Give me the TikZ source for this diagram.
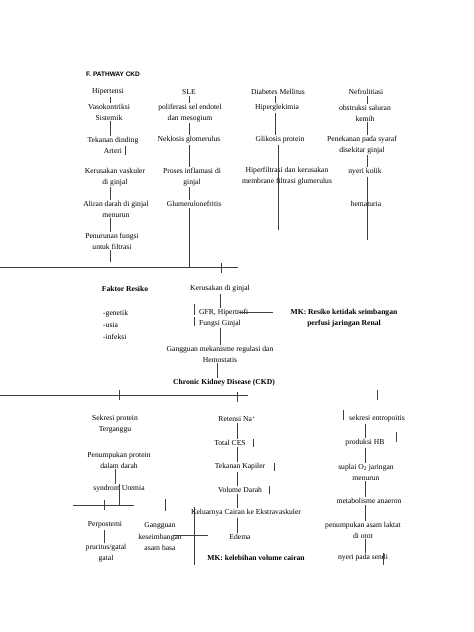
\documentclass[tikz,border=0pt]{standalone}
\usepackage{fontspec}
\setmainfont{Liberation Serif}
\newfontfamily\headfont{Liberation Sans}
\usetikzlibrary{calc,positioning}
\begin{document}
\begin{tikzpicture}[x=1pt,y=-1pt]
\tikzstyle{txt}=[inner sep=1pt, align=center, font=\fontsize{7.6}{10.8}\selectfont]
\tikzstyle{mk}=[txt, font=\fontsize{7.6}{10.8}\selectfont\bfseries]
\tikzstyle{ln}=[draw=black!75, line width=0.6pt]
\useasboundingbox (0,0) rectangle (474,632);

\node[anchor=west, inner sep=0pt, font=\headfont\fontsize{6.5}{8}\selectfont\bfseries] (judul) at (86,74) {F. PATHWAY CKD};

% etiologi
\coordinate (x1) at (110,0);
\coordinate (x2) at (189,0);
\coordinate (x3) at (275,0);
\coordinate (x4) at (367,0);

\node[txt] (hip) at (108,92) {Hipertensi};
\node[txt] (vaso) at (109,112) {Vasokontriksi\\Sistemik};
\node[txt] (tek) at (113,145) {Tekanan dinding\\Arteri};
\node[txt] (kervas) at (115,177) {Kerusakan vaskuler\\di ginjal};
\node[txt] (aliran) at (116,209) {Aliran darah di ginjal\\menurun};
\node[txt] (penfung) at (112,241) {Penurunan fungsi\\untuk filtrasi};

\node[txt] (sle) at (189,92) {SLE};
\node[txt] (poli) at (190,113) {poliferasi sel endotel\\dan mesogium};
\node[txt] (nekl) at (189,140) {Neklosis glomerulus};
\node[txt] (proses) at (192,177) {Proses inflamasi di\\ginjal};
\node[txt] (glum) at (194,204) {Glumerulonefritis};

\node[txt] (dm) at (278,92) {Diabetes Mellitus};
\node[txt] (hiperg) at (277,108) {Hiperglekimia};
\node[txt] (glik) at (280,140) {Glikosis protein};
\node[txt] (hiperf) at (287,176) {Hiperfiltrasi dan kerusakan\\membrane filtrasi glumerulus};

\node[txt] (nefro) at (366,92) {Nefrolitiasi};
\node[txt] (obs) at (365,113) {obstruksi saluran\\kemih};
\node[txt] (pen) at (362,145) {Penekanan pada syaraf\\disekitar ginjal};
\node[txt] (kolik) at (365,172) {nyeri kolik};
\node[txt] (hema) at (366,204) {hematuria};

\foreach \i/\j in {hip/vaso, vaso/tek, kervas/aliran, aliran/penfung}{\draw[ln] (\i.south -| x1) -- (\j.north -| x1);}
\foreach \i/\j in {sle/poli, poli/nekl, nekl/proses, proses/glum}{\draw[ln] (\i.south -| x2) -- (\j.north -| x2);}
\foreach \i/\j in {dm/hiperg, hiperg/glik}{\draw[ln] (\i.south -| x3) -- (\j.north -| x3);}
\foreach \i/\j in {nefro/obs, obs/pen, pen/kolik}{\draw[ln] (\i.south -| x4) -- (\j.north -| x4);}
\draw[ln] ($(tek.south)+(12,-8)$) -- ++(0,9);

\coordinate (e1) at (110,262);
\coordinate (e2) at (189,267);
\coordinate (e3) at (278,230);
\coordinate (e4) at (367,240);
\draw[ln] (penfung.south -| e1) -- (e1);
\draw[ln] (glum.south -| e2) -- (e2);
\draw[ln] (glik.south -| e3) -- (e3);
\draw[ln] (kolik.south -| e4) -- (e4);

\coordinate (g1w) at (0,267);
\coordinate (g1e) at (238,267);
\coordinate (t1) at (221,267);
\draw[ln] (g1w) -- (g1e);
\draw[ln] ($(t1)+(0,-4)$) -- ($(t1)+(0,6)$);

% faktor resiko dan CKD
\node[mk] (fakt) at (125,289) {Faktor Resiko};
\node[txt, align=left, anchor=west, font=\fontsize{7.6}{12}\selectfont] (resiko) at (102,325) {-genetik\\-usia\\-infeksi};
\node[txt] (kerg) at (220,289) {Kerusakan di ginjal};
\node[txt, align=left, anchor=west] (gfr) at (198,318) {GFR, Hipertrofi\\Fungsi Ginjal};
\node[mk] (mk1) at (344,318) {MK: Resiko ketidak seimbangan\\perfusi jaringan Renal};
\node[txt] (gang) at (220,354) {Gangguan mekanisme regulasi dan\\Hemostatis};
\node[mk] (ckd) at (224,383) {Chronic Kidney Disease (CKD)};

\draw[ln] (kerg.south) -- (kerg.south |- gfr.north);
\draw[ln] (gfr.south -| kerg) -- (gang.north -| kerg);
\draw[ln] ([xshift=-3pt]gang.south) -- ([xshift=-3pt]gang.south |- ckd.north);
\draw[ln] ($(gfr.east)+(-10,-6)$) -- ($(mk1.west)+(-16,-6)$);
\draw[ln] ($(gfr.west)+(-4,-14)$) -- ++(0,11);
\draw[ln] ($(gfr.west)+(-4,-1)$) -- ++(0,9);

\coordinate (g2w) at (0,395);
\coordinate (g2e) at (248,395);
\coordinate (t2a) at (119,395);
\coordinate (t2b) at (237,395);
\coordinate (t2c) at (377,395);
\draw[ln] (g2w) -- (g2e);
\foreach \t/\a/\b in {t2a/-5/5, t2b/-3/7, t2c/-5/5}{\draw[ln] ($(\t)+(0,\a)$) -- ($(\t)+(0,\b)$);}

% manifestasi
\node[txt] (sek) at (115,424) {Sekresi protein\\Terganggu};
\node[txt] (penp) at (119,460) {Penumpukan protein\\dalam darah};
\node[txt] (synd) at (119,489) {syndrom Uremia};
\node[txt] (perp) at (105,525) {Perpostemi};
\node[txt] (prur) at (106,553) {pruritus/gatal\\gatal};
\node[txt, font=\fontsize{7.6}{11.5}\selectfont] (ggn) at (160,537) {Gangguan\\keseimbangan\\asam basa};

\coordinate (x5) at (115,0);
\draw[ln] (sek.south -| x5) -- (sek.south -| x5 |- penp.north);
\draw[ln] (penp.south -| x5) -- (synd.north -| x5);
\coordinate (g3w) at (73,505);
\coordinate (g3e) at (134,505);
\coordinate (t3) at (104,505);
\draw[ln] (g3w) -- (g3e);
\draw[ln] (synd.north) -- (synd.north |- g3w);
\draw[ln] ($(t3)+(0,-5)$) -- ($(t3)+(0,5)$);
\draw[ln] ($(perp.south)+(-1,0)$) -- ($(perp.south |- prur.north)+(-1,0)$);
\draw[ln] ($(ggn.north)+(5,-23)$) -- ++(0,12);
\coordinate (silang) at (194,535);
\draw[ln] ($(silang)+(0,-28)$) -- ($(silang)+(0,30)$);
\draw[ln] ($(silang)+(-21,0)$) -- ($(silang)+(14,0)$);

\node[txt] (ret) at (237,419) {Retensi Na\textsuperscript{+}};
\node[txt] (tces) at (230,443) {Total CES};
\node[txt] (tkap) at (240,467) {Tekanan Kapiler};
\node[txt] (vold) at (240,490) {Volume Darah};
\node[txt] (kel) at (246,513) {Keluarnya Cairan ke Ekstravaskuler};
\node[txt] (edema) at (240,537) {Edema};
\node[mk] (mk2) at (256,558) {MK: kelebihan volume cairan};

\foreach \i/\j in {ret/tces, tces/tkap, tkap/vold, vold/kel, kel/edema}{\draw[ln] (\i.south -| ret) -- (\j.north -| ret);}
\foreach \n/\d in {tces/6, tkap/8, vold/6}{\draw[ln] ($(\n.east)+(\d,-4)$) -- ++(0,8);}

\node[txt] (sekr) at (377,419) {sekresi entropoitis};
\node[txt] (prod) at (365,443) {produksi HB};
\node[txt] (supl) at (366,472) {suplai O\textsubscript{2} jaringan\\menurun};
\node[txt] (meta) at (369,501) {metabolisme anaeron};
\node[txt] (penas) at (363,530) {penumpukan asam laktat\\di otot};
\node[txt] (nyeri) at (363,558) {nyeri pada sendi};

\foreach \i/\j in {sekr/prod, prod/supl, supl/meta, meta/penas, penas/nyeri}{\draw[ln] (\i.south -| prod) -- (\j.north -| prod);}
\draw[ln] ($(sekr.west)+(-5,-9)$) -- ++(0,10);
\draw[ln] ($(prod.east)+(11,-11)$) -- ++(0,10);
\draw[ln] ($(nyeri.east)+(-6,-5)$) -- ++(0,12);
\end{tikzpicture}
\end{document}
